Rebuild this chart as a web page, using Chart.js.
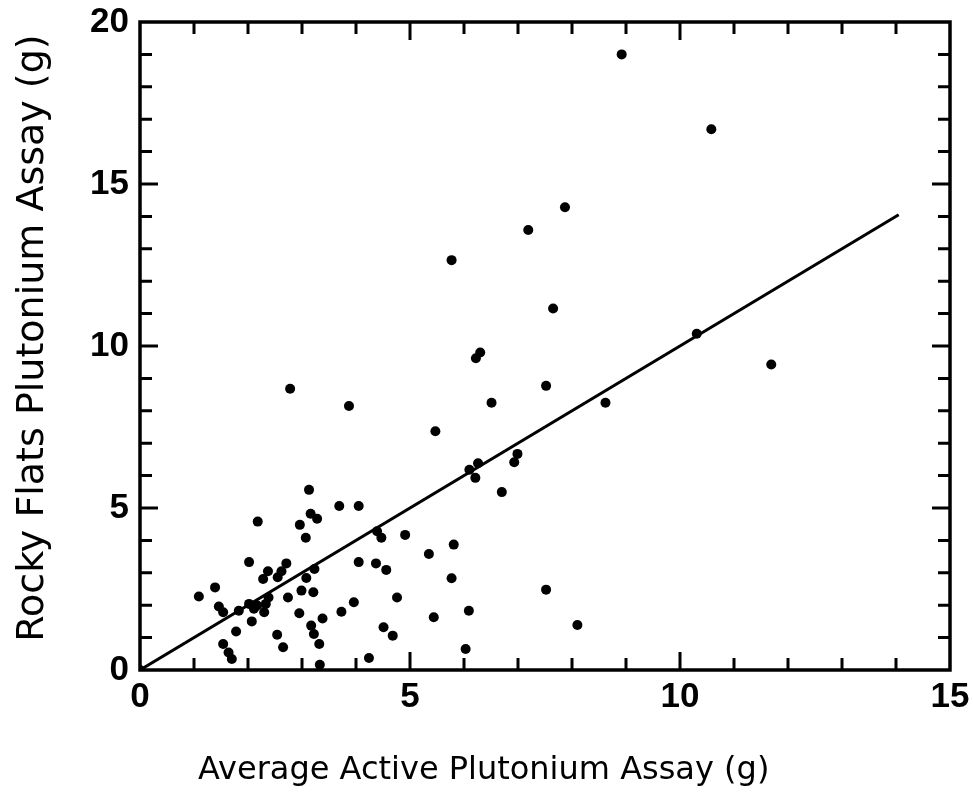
<!DOCTYPE html>
<html>
<head>
<meta charset="utf-8">
<script src="https://cdn.jsdelivr.net/npm/chart.js@4"></script>
<style>
  html, body { margin: 0; padding: 0; background: #fff; }
  #wrap { width: 973px; height: 798px; }
</style>
</head>
<body>
<div id="wrap"><canvas id="assay" width="973" height="798"></canvas></div>
<script>
// values (grams)
var activeAssay = [8.92, 10.58, 7.87, 7.19, 5.77, 7.65, 10.31, 6.22, 6.30, 11.69,
  2.78, 7.52, 6.51, 8.62, 3.87, 5.47, 6.99, 6.93, 6.26, 6.10,
  6.21, 6.70, 3.13, 3.69, 4.05, 2.18, 2.96, 3.16, 3.28, 3.07,
  4.39, 4.47, 4.91, 5.81, 5.35, 4.05, 4.37, 4.56, 5.77, 7.52,
  4.76, 3.96, 6.09, 3.73, 5.44, 3.38, 8.10, 4.51, 4.68, 6.03,
  4.24, 3.17, 3.22, 3.32, 2.95, 2.99, 3.21, 3.08, 3.23, 2.74,
  2.71, 2.37, 2.28, 2.55, 2.62, 2.02, 1.39, 1.09, 1.46, 1.54,
  1.83, 2.02, 2.17, 2.33, 2.30, 2.11, 2.38, 2.07, 1.78, 1.54,
  1.64, 1.70, 2.54, 2.65, 3.33, 0.00];
var rockyFlatsAssay = [19.0, 16.69, 14.28, 13.58, 12.65, 11.16, 10.38, 9.62, 9.80, 9.43,
  8.68, 8.77, 8.25, 8.25, 8.15, 7.37, 6.67, 6.41, 6.38, 6.18,
  5.93, 5.49, 5.56, 5.06, 5.06, 4.58, 4.48, 4.82, 4.67, 4.08,
  4.28, 4.08, 4.17, 3.87, 3.58, 3.33, 3.29, 3.09, 2.83, 2.48,
  2.24, 2.09, 1.83, 1.80, 1.63, 1.59, 1.39, 1.32, 1.06, 0.65,
  0.37, 1.37, 1.11, 0.80, 1.75, 2.45, 2.40, 2.84, 3.12, 2.24,
  3.29, 3.05, 2.81, 2.86, 3.05, 3.33, 2.55, 2.27, 1.96, 1.78,
  1.83, 2.04, 1.99, 2.04, 1.78, 1.89, 2.24, 1.50, 1.19, 0.80,
  0.54, 0.34, 1.09, 0.70, 0.16, 0.00];

// fitted line
var fitX = [0, 14.05];
var fitY = [0, 14.05];

var xTickLabels = ['0', '5', '10', '15'];
var yTickLabels = ['0', '5', '10', '15', '20'];
var xTitle = 'Average Active Plutonium Assay (g)';
var yTitle = 'Rocky Flats Plutonium Assay (g)';

var points = activeAssay.map(function(x, i) { return {x: x, y: rockyFlatsAssay[i]}; });
var fitLine = fitX.map(function(x, i) { return {x: x, y: fitY[i]}; });

// box around the plot with inward ticks on all four sides
var frameTicks = {
  id: 'frameTicks',
  afterDatasetsDraw: function(chart) {
    var ctx = chart.ctx, a = chart.chartArea;
    var xs = chart.scales.x, ys = chart.scales.y;
    ctx.save();
    ctx.strokeStyle = '#000';
    ctx.lineWidth = 3.5;
    ctx.strokeRect(a.left, a.top, a.right - a.left, a.bottom - a.top);
    ctx.lineWidth = 3;
    ctx.beginPath();
    for (var v = 1; v < 15; v++) {
      var px = xs.getPixelForValue(v);
      var len = v % 5 === 0 ? 18 : 12;
      ctx.moveTo(px, a.bottom); ctx.lineTo(px, a.bottom - len);
      ctx.moveTo(px, a.top); ctx.lineTo(px, a.top + len);
    }
    for (var w = 1; w < 20; w++) {
      var py = ys.getPixelForValue(w);
      var l2 = w % 5 === 0 ? 18 : 12;
      ctx.moveTo(a.left, py); ctx.lineTo(a.left + l2, py);
      ctx.moveTo(a.right, py); ctx.lineTo(a.right - l2, py);
    }
    ctx.stroke();
    ctx.restore();
  }
};

// axis captions, placed like the scan (x caption sits left of centre)
var axisCaptions = {
  id: 'axisCaptions',
  afterDraw: function(chart) {
    var ctx = chart.ctx;
    ctx.save();
    ctx.fillStyle = '#000';
    ctx.font = '32px "DejaVu Sans", sans-serif';
    ctx.textAlign = 'left';
    ctx.textBaseline = 'alphabetic';
    ctx.fillText(xTitle, 198, 779);
    ctx.font = '38px "DejaVu Sans", sans-serif';
    ctx.translate(43, 338);
    ctx.rotate(-Math.PI / 2);
    ctx.textAlign = 'center';
    ctx.fillText(yTitle, 0, 0);
    ctx.restore();
  }
};

Chart.defaults.font.family = '"Liberation Sans", Arial, sans-serif';
Chart.defaults.color = '#000';

new Chart('assay', {
  type: 'scatter',
  data: {
    datasets: [
      {
        label: 'Assays',
        data: points,
        backgroundColor: '#000',
        borderColor: '#000',
        pointRadius: 5,
        pointBorderWidth: 0,
        pointStyle: 'circle'
      },
      {
        label: 'Fit',
        type: 'line',
        data: fitLine,
        borderColor: '#000',
        borderWidth: 3,
        pointRadius: 0,
        fill: false
      }
    ]
  },
  options: {
    responsive: false,
    animation: false,
    layout: { padding: { top: 22, right: 23, left: 0, bottom: 0 } },
    plugins: { legend: { display: false }, tooltip: { enabled: false } },
    scales: {
      x: {
        type: 'linear',
        min: 0,
        max: 15,
        afterFit: function(s) { s.height = 128; s.paddingLeft = 0; s.paddingRight = 0; },
        afterBuildTicks: function(s) {
          s.ticks = xTickLabels.map(function(t) { return {value: Number(t)}; });
        },
        ticks: {
          font: { size: 35, weight: 'bold' },
          padding: 6,
          callback: function(v) { return String(v); }
        },
        grid: { display: false, drawTicks: false },
        border: { display: false },
        title: { display: false, text: xTitle }
      },
      y: {
        type: 'linear',
        min: 0,
        max: 20,
        afterFit: function(s) { s.width = 140; s.paddingTop = 0; s.paddingBottom = 0; },
        afterBuildTicks: function(s) {
          s.ticks = yTickLabels.map(function(t) { return {value: Number(t)}; });
        },
        ticks: {
          font: { size: 35, weight: 'bold' },
          padding: 11,
          callback: function(v) { return String(v); }
        },
        grid: { display: false, drawTicks: false },
        border: { display: false },
        title: { display: false, text: yTitle }
      }
    }
  },
  plugins: [frameTicks, axisCaptions]
});
</script>
</body>
</html>
